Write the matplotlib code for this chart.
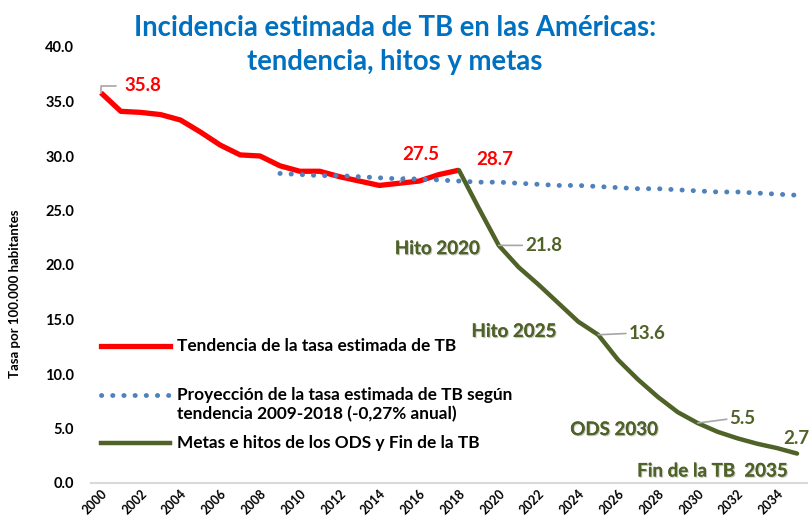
import matplotlib
matplotlib.use("Agg")
import matplotlib.pyplot as plt
import matplotlib.patheffects as pe
from matplotlib.lines import Line2D

plt.rcParams['font.family'] = ['Lato', 'DejaVu Sans']
plt.rcParams['font.weight'] = 'bold'

# ---- data ----
trend_years = list(range(2000, 2019))
trend_values = [35.8, 34.1, 34.0, 33.8, 33.3, 32.2, 31.0, 30.1, 30.0, 29.1,
                28.6, 28.6, 28.1, 27.7, 27.3, 27.5, 27.7, 28.3, 28.7]

proj_years = list(range(2009, 2036))
proj_values = [28.4, 28.3, 28.2, 28.2, 28.1, 28.0, 27.9, 27.9, 27.8, 27.7,
               27.6, 27.6, 27.5, 27.4, 27.3, 27.3, 27.2, 27.1, 27.0, 27.0,
               26.9, 26.8, 26.7, 26.7, 26.6, 26.5, 26.4]

goal_years = list(range(2018, 2036))
goal_values = [28.7, 25.2, 21.8, 19.8, 18.2, 16.5, 14.8, 13.6, 11.3, 9.5,
               7.9, 6.5, 5.5, 4.7, 4.1, 3.6, 3.2, 2.7]

xtick_years = list(range(2000, 2035, 2))
yticks = [0, 5, 10, 15, 20, 25, 30, 35, 40]

title = "Incidencia estimada de TB en las Américas:\ntendencia, hitos y metas"
ylabel = "Tasa por 100.000 habitantes"
leg_trend = "Tendencia de la tasa estimada de TB"
leg_proj1 = "Proyección de la tasa estimada de TB según"
leg_proj2 = "tendencia 2009-2018 (-0,27% anual)"
leg_goal = "Metas e hitos de los ODS y Fin de la TB"

RED = "#FF0000"
BLUE = "#4F81BD"
GREEN = "#4F6228"
GRAY = "#A6A6A6"
DOTS = (0, (0.05, 2.25))

fig = plt.figure(figsize=(8.1, 5.3), dpi=100)
ax = fig.add_axes([91/810, 1-483/530, (807-91)/810, (483-47)/530])

ax.plot(trend_years, trend_values, color=RED, lw=3.8, solid_capstyle='butt',
        solid_joinstyle='round', zorder=3)
ax.plot(proj_years, proj_values, color=BLUE, lw=3.5, linestyle=DOTS,
        dash_capstyle='round', zorder=4)
ax.plot(goal_years, goal_values, color=GREEN, lw=3.2, solid_capstyle='round',
        solid_joinstyle='round', zorder=5)

ax.set_xlim(1999.5, 2035.5)
ax.set_ylim(0, 40)
ax.set_xticks(xtick_years)
ax.set_xticklabels([str(y) for y in xtick_years], rotation=45, ha='right',
                   rotation_mode='anchor', fontsize=9, fontweight='bold')
ax.set_yticks(yticks)
ax.set_yticklabels([f"{v:.1f}" for v in yticks], fontsize=10.5, fontweight='bold')
ax.tick_params(axis='both', length=0)
ax.tick_params(axis='y', pad=12)
ax.tick_params(axis='x', pad=3)
for s in ['top', 'right', 'left']:
    ax.spines[s].set_visible(False)
ax.spines['bottom'].set_color('#D9D9D9')
ax.spines['bottom'].set_linewidth(1.5)

fig.text(15/810, 1-294/530, ylabel, rotation=90, ha='center', va='center',
         fontsize=9.5, fontweight='bold')
fig.text(395/810, 1-45/530, title, ha='center', va='center', fontsize=19.8,
         fontweight='bold', color='#0070C0', linespacing=1.38)

# ---- data labels ----
def num_label(x, y, text, color, xytext, size=13.5):
    ax.annotate(text, xy=(x, y), xytext=xytext, textcoords='offset points',
                color=color, fontsize=size, fontweight='bold', ha='left', va='center',
                arrowprops=dict(arrowstyle='-', color=GRAY, lw=1.2,
                                shrinkA=0, shrinkB=0, relpos=(0, 0.5)), zorder=6)

ax.annotate("35.8", xy=(2000, 35.8), xytext=(17, 5), textcoords='offset points',
            color=RED, fontsize=13.5, fontweight='bold', ha='left', va='center',
            arrowprops=dict(arrowstyle='-', color=GRAY, lw=1.2, shrinkA=4, shrinkB=0,
                            connectionstyle='angle,angleA=0,angleB=90,rad=0',
                            relpos=(0, 0.5)))
ax.annotate("27.5", xy=(2015, 27.5), xytext=(2, 21), textcoords='offset points',
            color=RED, fontsize=13.5, fontweight='bold', ha='left', va='center',
            arrowprops=dict(arrowstyle='-', color=GRAY, lw=1.2, shrinkA=10, shrinkB=1))
ax.text(2018.85, 28.9, "28.7", color=RED, fontsize=13.5, fontweight='bold',
        ha='left', va='bottom')

num_label(2020, 21.8, "21.8", GREEN, (19, 0))
num_label(2025, 13.6, "13.6", GREEN, (22, 1))
num_label(2030, 5.5, "5.5", GREEN, (23, 3))
ax.text(2034.3, 3.3, "2.7", color=GREEN, fontsize=13.5, fontweight='bold',
        ha='left', va='bottom')

shadow = [pe.withSimplePatchShadow(offset=(0.8, -0.8), alpha=0.25), pe.Normal()]
for x, y, t in [(2019.05, 21.5, "Hito 2020"), (2022.9, 13.9, "Hito 2025"),
                (2028.0, 4.9, "ODS 2030"), (2034.5, 1.1, "Fin de la TB  2035")]:
    ax.text(x, y, t, color=GREEN, fontsize=13.5, fontweight='bold', ha='right',
            va='center', path_effects=shadow)

# ---- legend (manual, Excel-like) ----
def fx(px):
    return (px - 91) / (807 - 91)

def fy(py):
    return (483 - py) / (483 - 47)

ax.add_line(Line2D([fx(101), fx(170)], [fy(346), fy(346)], transform=ax.transAxes,
                   color=RED, lw=3.8))
ax.add_line(Line2D([fx(101), fx(170)], [fy(395), fy(395)], transform=ax.transAxes,
                   color=BLUE, lw=3.5, linestyle=DOTS, dash_capstyle='round'))
ax.add_line(Line2D([fx(101), fx(170)], [fy(443), fy(443)], transform=ax.transAxes,
                   color=GREEN, lw=3.2))
for py, t in [(346, leg_trend), (395, leg_proj1), (414, leg_proj2), (443, leg_goal)]:
    ax.text(fx(177), fy(py), t, transform=ax.transAxes, ha='left', va='center',
            fontsize=12.4, fontweight='bold', color='black')

fig.savefig("out.png", dpi=100)
